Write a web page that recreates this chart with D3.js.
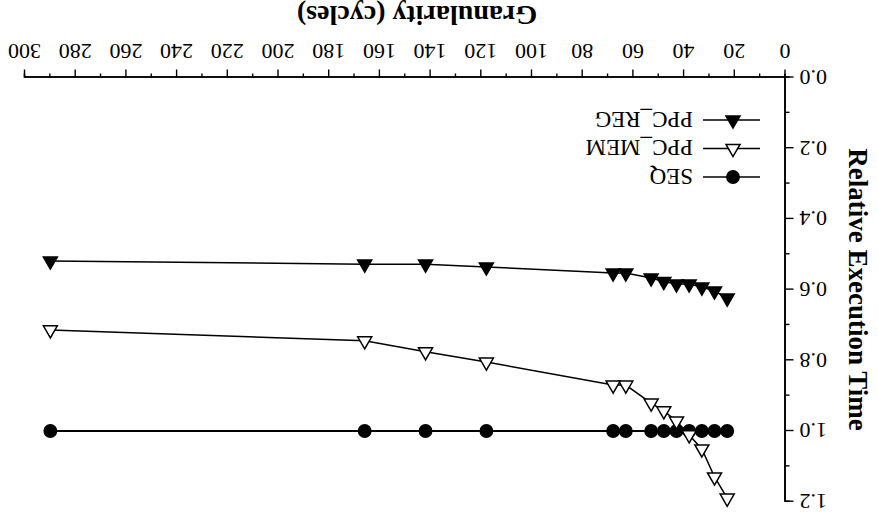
<!DOCTYPE html>
<html>
<head>
<meta charset="utf-8">
<script src="https://cdn.jsdelivr.net/npm/d3@7"></script>
<style>
  body { margin: 0; background: #fff; }
  svg text { font-family: "Liberation Serif", "Times New Roman", serif; fill: #000; }
</style>
</head>
<body>
<svg id="chart" width="878" height="515"></svg>
<script>
// granularity (cycles), shared by every series
const granularity = [23, 28, 33, 38, 43, 48, 53, 63, 68, 118, 142, 166, 290];

// relative execution time
const seq    = [1.0, 1.0, 1.0, 1.0, 1.0, 1.0, 1.0, 1.0, 1.0, 1.0, 1.0, 1.0, 1.0];
const ppcMem = [1.19, 1.13, 1.051, 1.011, 0.972, 0.943, 0.921, 0.87, 0.87, 0.805, 0.776, 0.745, 0.714];
const ppcReg = [0.624, 0.604, 0.593, 0.584, 0.584, 0.577, 0.567, 0.553, 0.553, 0.536, 0.528, 0.528, 0.519];

const xTicks = d3.range(0, 301, 20);
const xMinor = d3.range(10, 300, 20);
const yTicks = d3.range(0, 7).map(d => d * 0.2);
const yMinor = d3.range(0, 6).map(d => d * 0.2 + 0.1);

const series = [
  { name: "SEQ", values: seq, shape: "circle", fill: "#000", lw: 2 },
  { name: "PPC_MEM", values: ppcMem, shape: "triangle", fill: "#fff", lw: 1.5 },
  { name: "PPC_REG", values: ppcReg, shape: "triangle", fill: "#000", lw: 1.5 }
];

const W = 878, H = 515;
const m = { left: 92.5, right: 25, top: 13.3, bottom: 77.5 };

const svg = d3.select("#chart");
// the whole figure is shown upside down
const root = svg.append("g").attr("transform", `rotate(180 ${W / 2} ${H / 2})`);

const x = d3.scaleLinear().domain([0, 300]).range([m.left, W - m.right]);
const y = d3.scaleLinear().domain([0, 1.2]).range([H - m.bottom, m.top]);

function styleAxis(g) {
  g.select(".domain").attr("stroke", "#000").attr("stroke-width", 1.6);
  g.selectAll(".tick line").attr("stroke", "#000").attr("stroke-width", 1.4);
}

// minor ticks
root.append("g")
  .attr("transform", `translate(0,${y(0)})`)
  .call(d3.axisBottom(x).tickValues(xMinor).tickSize(4).tickFormat(""))
  .call(styleAxis);
root.append("g")
  .attr("transform", `translate(${x(0)},0)`)
  .call(d3.axisLeft(y).tickValues(yMinor).tickSize(4).tickFormat(""))
  .call(styleAxis);

// major ticks
root.append("g")
  .attr("transform", `translate(0,${y(0)})`)
  .call(d3.axisBottom(x).tickValues(xTicks).tickSize(8).tickSizeOuter(0).tickPadding(10).tickFormat(d3.format("d")))
  .call(styleAxis)
  .selectAll("text").attr("font-size", 22);

root.append("g")
  .attr("transform", `translate(${x(0)},0)`)
  .call(d3.axisLeft(y).tickValues(yTicks).tickSize(8).tickSizeOuter(0).tickPadding(6).tickFormat(d3.format(".1f")))
  .call(styleAxis)
  .selectAll("text").attr("font-size", 22);

// axis titles
root.append("text")
  .attr("x", 461).attr("y", 509)
  .attr("text-anchor", "middle")
  .attr("font-size", 28).attr("font-weight", "bold")
  .text("Granularity (cycles)");

root.append("text")
  .attr("transform", `translate(29,${y(0.6)}) rotate(-90)`)
  .attr("text-anchor", "middle")
  .attr("font-size", 27).attr("font-weight", "bold")
  .text("Relative Execution Time");

const line = d3.line().x(d => x(d[0])).y(d => y(d[1]));

function symbolFor(s) {
  return d3.symbol()
    .type(s.shape === "circle" ? d3.symbolCircle : d3.symbolTriangle)
    .size(s.shape === "circle" ? 120 : 85)();
}

series.forEach(s => {
  const pts = granularity.map((g, i) => [g, s.values[i]]);
  root.append("path")
    .attr("d", line(pts))
    .attr("fill", "none")
    .attr("stroke", "#000")
    .attr("stroke-width", s.lw);
  root.append("g").selectAll("path")
    .data(pts)
    .join("path")
    .attr("d", symbolFor(s))
    .attr("transform", d => `translate(${x(d[0])},${y(d[1])})`)
    .attr("fill", s.fill)
    .attr("stroke", "#000")
    .attr("stroke-width", 1.5);
});

// legend
const legend = root.append("g").attr("transform", "translate(118,338)");
series.forEach((s, i) => {
  const row = legend.append("g").attr("transform", `translate(0,${i * 28.5})`);
  row.append("line")
    .attr("x1", 0).attr("x2", 57)
    .attr("stroke", "#000").attr("stroke-width", 1.5);
  row.append("path")
    .attr("d", symbolFor(s))
    .attr("transform", "translate(27,0)")
    .attr("fill", s.fill)
    .attr("stroke", "#000")
    .attr("stroke-width", 1.5);
  row.append("text")
    .attr("x", 67).attr("dy", "0.35em")
    .attr("font-size", 23)
    .text(s.name);
});
</script>
</body>
</html>
